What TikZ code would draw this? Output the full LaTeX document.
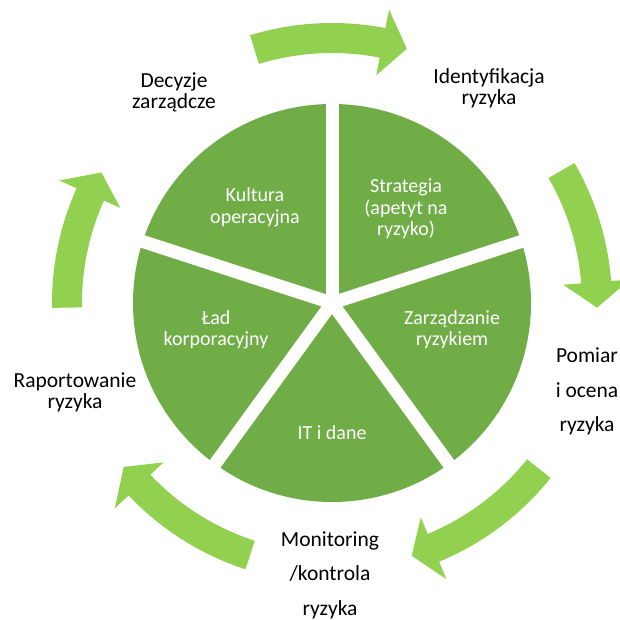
\documentclass[tikz,border=0pt]{standalone}
\usepackage{fontspec}
\setmainfont{Carlito}
\usepackage{tikz}
\usepackage{xcolor}
\definecolor{piegreen}{rgb}{0.44, 0.68, 0.28}
\definecolor{arrowgreen}{rgb}{0.57, 0.82, 0.31}
\usetikzlibrary{calc}

% curved block arrow round (C): tail angle, head base angle, tip angle
\newcommand{\cyclearrow}[3]{%
	\fill[arrowgreen,shift={(C)}] (#1:280) arc[start angle=#1,end angle=#2,radius=280]
	-- (#2:299) -- (#3:265) -- (#2:232) -- (#2:250)
	arc[start angle=#2,end angle=#1,radius=250] -- cycle;}

\begin{document}
\begin{tikzpicture}[x=1pt,y=1pt,
		inner/.style={text=white,align=center,inner sep=0pt,font=\fontsize{20}{21.5}\selectfont},
		outer/.style={text=black,align=center,inner sep=0pt,font=\fontsize{21.5}{21.5}\selectfont},
		outerwide/.style={outer,font=\fontsize{21.5}{34.5}\selectfont}]
	\useasboundingbox (0,0) rectangle (620,619);
	\coordinate []  (C) at (332,316) ;
	% the pie and its five gaps
	\fill[piegreen] (C) circle[radius=199];
	\foreach \a in {18,90,162,234,306}
	\draw[white,line width=13pt] (C) -- ++(\a:210);
	\fill[white] (C) circle[radius=7];
	% arrows round the pie
	\cyclearrow{107}{79}{73.6}
	\cyclearrow{30}{4.5}{-1}
	\cyclearrow{-38.7}{-67.5}{-72.5}
	\cyclearrow{-108}{-136.6}{-141.8}
	\cyclearrow{-179}{-204.2}{-209.5}
	% texts in the pie
	\node[inner] (strategia) at (406,410) {Strategia\\(apetyt na\\ryzyko)};
	\node[inner] (kultura) at (255,411.6) {Kultura\\operacyjna};
	\node[inner] (lad) at (216,289) {Ład\\korporacyjny};
	\node[inner] (itdane) at (332,186) {IT i dane};
	\node[inner] (zarzadzanie) at (452,289.5) {Zarządzanie\\ryzykiem};
	% texts round the pie
	\node[outer] (decyzje) at (174,526.5) {Decyzje\\zarządcze};
	\node[outer] (identyfikacja) at (489,530.5) {Identyfikacja\\ryzyka};
	\node[outerwide] (pomiar) at (587,227.5) {Pomiar\\i ocena\\ryzyka};
	\node[outerwide] (monitoring) at (330,44) {Monitoring\\/kontrola\\ryzyka};
	\node[outer] (raportowanie) at (75,226.5) {Raportowanie\\ryzyka};
\end{tikzpicture}
\end{document}
